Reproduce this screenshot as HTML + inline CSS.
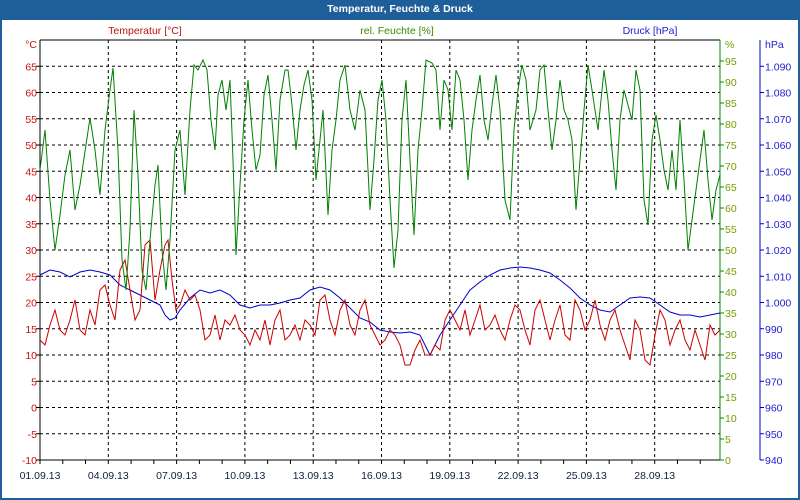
<!DOCTYPE html>
<html><head><meta charset="utf-8"><style>
html,body{margin:0;padding:0;background:#fff}
#w{position:relative;width:796px;height:478px;border:2px solid #1e5f9a;border-top:none;padding-top:20px;}
#t{position:absolute;left:-2px;top:0;width:800px;height:20px;background:#1e5f9a;color:#fff;font:bold 10.5px "Liberation Sans",sans-serif;text-align:center;line-height:18px}
svg{position:absolute;left:-2px;top:0}
text{font-family:"Liberation Sans",sans-serif;font-size:10.5px}
</style></head><body>
<div id="w"><div id="t">Temperatur, Feuchte &amp; Druck</div>
<svg id="s" width="800" height="500" viewBox="0 0 800 500"></svg></div>
<script>
var s=document.getElementById('s'),h='';
var L=40,R=720,T=40,B=460;
function y(v,a,b){return B-(v-a)/(b-a)*(B-T);}
for(var v=-5;v<70;v+=5){var yy=y(v,-10,70);h+='<line x1="40" x2="720" y1="'+yy+'" y2="'+yy+'" stroke="#000" stroke-dasharray="3,3"/>';}
var dates=['01.09.13','04.09.13','07.09.13','10.09.13','13.09.13','16.09.13','19.09.13','22.09.13','25.09.13','28.09.13'];
var step=683/30;
for(var d=0;d<30;d++){var x=40+d*step;h+='<line x1="'+x+'" x2="'+x+'" y1="460" y2="464" stroke="#000"/>';}
for(var i=0;i<10;i++){var x=40+i*3*step;if(i>0)h+='<line x1="'+x+'" x2="'+x+'" y1="40" y2="460" stroke="#000" stroke-dasharray="3,3"/>';h+='<text x="'+x+'" y="479" text-anchor="middle" fill="#102040">'+dates[i]+'</text>';}
for(var v=-10;v<70;v+=5){h+='<text x="37" y="'+(y(v,-10,70)+4)+'" text-anchor="end" fill="#d01010">'+v+'</text>';h+='<line x1="36" x2="40" y1="'+y(v,-10,70)+'" y2="'+y(v,-10,70)+'" stroke="#000"/>';}
h+='<text x="37" y="48" text-anchor="end" fill="#d01010">°C</text>';
for(var v=0;v<100;v+=5){var yy=y(v,0,100);h+='<line x1="720" x2="724" y1="'+yy+'" y2="'+yy+'" stroke="#080"/><text x="725" y="'+(yy+4)+'" fill="#7a9a00">'+v+'</text>';}
h+='<text x="725" y="48" fill="#7a9a00">%</text>';
for(var v=940;v<1100;v+=10){var yy=y(v,940,1100);var lab=v>=1000?('1.0'+String(v-1000).padStart(2,'0')):v;h+='<line x1="760" x2="764" y1="'+yy+'" y2="'+yy+'" stroke="#00c"/><text x="765" y="'+(yy+4)+'" fill="#2020d0">'+lab+'</text>';}
h+='<text x="765" y="48" fill="#2020d0">hPa</text>';
h+='<text x="145" y="34" text-anchor="middle" fill="#c01010">Temperatur [°C]</text>';
h+='<text x="397" y="34" text-anchor="middle" fill="#3a8a00">rel. Feuchte [%]</text>';
h+='<text x="650" y="34" text-anchor="middle" fill="#2020d0">Druck [hPa]</text>';
h+='<line x1="40" x2="720" y1="40" y2="40" stroke="#000"/><line x1="40" x2="720" y1="460" y2="460" stroke="#000"/><line x1="40" x2="40" y1="40" y2="460" stroke="#000"/><line x1="720" x2="720" y1="40" y2="460" stroke="#080"/><line x1="760" x2="760" y1="40" y2="460" stroke="#00c"/>';
var g="40,170 45,130 50,200 55,250 60,215 65,175 70,150 75,210 80,185 90,118 95,150 100,195 105,130 110,90 113,68 118,150 122,260 126,290 130,230 134,110 138,175 142,270 146,290 150,240 155,185 158,165 162,250 166,290 170,240 175,150 180,130 185,195 190,110 194,65 198,70 203,60 207,70 211,120 215,150 218,95 222,80 226,110 230,80 233,160 236,255 240,185 244,120 248,80 252,130 256,170 260,155 264,95 268,75 272,120 276,170 280,100 285,70 288,70 292,105 296,150 300,110 304,85 308,70 312,100 316,180 320,140 323,110 328,215 332,150 336,120 340,80 345,65 350,110 355,130 360,90 365,110 370,210 374,160 378,100 382,80 386,120 390,200 394,268 398,230 402,120 406,80 410,160 414,235 418,150 422,110 426,60 432,63 436,70 440,130 444,80 448,90 452,130 456,70 460,80 464,120 468,180 472,130 476,100 480,75 484,120 488,140 492,105 496,75 500,110 505,200 510,220 514,130 518,90 522,65 526,80 530,130 536,110 540,70 544,65 548,110 552,150 556,120 560,80 564,110 568,120 572,140 576,210 580,160 584,110 588,65 592,90 598,130 604,70 608,100 612,150 616,190 620,120 624,90 628,105 632,120 636,70 640,90 644,200 648,225 652,140 656,115 660,140 664,170 668,190 672,150 676,190 680,120 684,180 688,250 692,220 696,190 700,160 704,130 708,180 712,220 716,190 720,175";
var r="40,340 45,345 50,325 55,310 60,330 65,335 70,320 75,300 80,330 85,335 90,310 95,325 100,290 105,285 110,305 115,320 120,270 125,260 130,290 135,320 140,310 145,245 150,240 155,300 160,270 165,245 168,240 172,280 176,310 180,305 185,290 190,300 195,295 200,310 205,340 210,335 215,315 220,340 225,320 230,325 235,315 240,330 245,335 250,345 255,330 260,340 265,320 270,345 275,320 280,310 285,340 290,335 295,325 300,340 305,320 310,325 315,335 320,300 325,295 330,320 335,335 340,310 345,300 350,325 355,335 360,310 365,300 370,325 375,335 380,345 385,340 390,330 395,335 400,345 405,365 410,365 415,350 420,340 425,355 430,355 435,345 440,350 445,320 450,310 455,320 460,330 465,310 470,335 475,320 480,305 485,330 490,325 495,315 500,330 505,340 510,320 515,305 520,310 525,330 530,345 535,310 540,300 545,320 550,340 555,320 560,305 565,335 570,340 575,300 580,310 585,330 590,320 595,300 600,325 605,340 610,320 615,310 620,330 625,345 630,360 635,320 640,330 645,360 650,365 655,335 660,310 665,320 670,345 675,330 680,320 685,340 690,350 695,330 700,345 705,360 710,325 715,335 720,330";
var b="40,275 50,270 60,272 70,277 80,272 90,270 100,272 110,275 120,285 130,290 140,295 150,300 160,305 165,315 170,320 175,318 180,310 190,298 200,290 210,293 220,290 230,295 240,305 250,308 260,305 270,305 280,303 290,300 300,298 310,290 320,287 330,290 340,298 350,308 360,318 370,322 380,330 390,332 400,333 410,332 420,335 425,345 430,355 435,345 440,335 450,320 460,305 470,290 480,282 490,275 500,270 510,268 520,267 530,268 540,270 550,273 560,280 570,288 580,298 590,305 600,310 610,312 620,305 630,298 640,297 650,298 660,305 670,312 680,315 690,315 700,317 710,315 720,313";
h+='<polyline points="'+b+'" fill="none" stroke="#0000cc"/>';
h+='<polyline points="'+r+'" fill="none" stroke="#cc0000"/>';
h+='<polyline points="'+g+'" fill="none" stroke="#008000"/>';
s.innerHTML=h;
</script>
</body></html>
